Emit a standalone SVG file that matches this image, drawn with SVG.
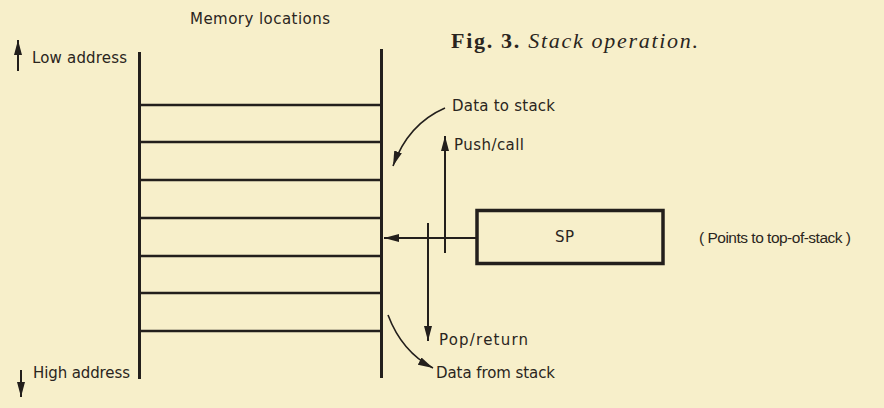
<svg xmlns="http://www.w3.org/2000/svg" width="884" height="408" viewBox="0 0 884 408">
<defs>
<style>
.t{font-family:"DejaVu Sans","Liberation Sans",sans-serif;font-size:15px;fill:#2a2520}
.rail{stroke:#231f1c;stroke-width:3;fill:none}
.cell{stroke:#231f1c;stroke-width:2.5;fill:none}
.ln{stroke:#231f1c;stroke-width:2;fill:none}
</style>
<marker id="ahl" viewBox="0 0 16 10" refX="15" refY="5" markerWidth="16" markerHeight="10" markerUnits="userSpaceOnUse" orient="auto">
<path d="M0,1 L15,5 L0,9 Z" fill="#231f1c"/>
</marker>
</defs>
<rect width="884" height="408" fill="#f7efca"/>
<text x="451" y="48" textLength="247" style="font-family:'Liberation Serif',serif;font-size:22px;fill:#2a2520"><tspan font-weight="bold">Fig. 3.</tspan><tspan font-style="italic"> Stack operation.</tspan></text>
<g id="stack">
<text class="t" x="190" y="24" textLength="140">Memory locations</text>
<line class="rail" x1="139.5" y1="52" x2="139.5" y2="379"/>
<line class="rail" x1="381.5" y1="49" x2="381.5" y2="378"/>
<line class="cell" x1="140" y1="105" x2="381" y2="105"/>
<line class="cell" x1="140" y1="142" x2="381" y2="142"/>
<line class="cell" x1="140" y1="180" x2="381" y2="180"/>
<line class="cell" x1="140" y1="218" x2="381" y2="218"/>
<line class="cell" x1="140" y1="256" x2="381" y2="256"/>
<line class="cell" x1="140" y1="293" x2="381" y2="293"/>
<line class="cell" x1="140" y1="331" x2="381" y2="331"/>
</g>
<g id="low-address">
<line class="ln" x1="18" y1="71" x2="18" y2="40" marker-end="url(#ahl)"/>
<text class="t" x="32" y="63" textLength="95">Low address</text>
</g>
<g id="high-address">
<line class="ln" x1="21" y1="370" x2="21" y2="397" marker-end="url(#ahl)"/>
<text class="t" x="33" y="378" textLength="97">High address</text>
</g>
<g id="sp">
<rect x="477" y="210.5" width="186" height="53" fill="none" stroke="#231f1c" stroke-width="3.5"/>
<text class="t" x="555" y="242" textLength="19">SP</text>
<text class="t" x="699" y="243" style="font-family:'Liberation Sans',sans-serif;font-size:15.5px" textLength="152">( Points to top-of-stack )</text>
</g>
<g id="connectors">
<line class="ln" x1="477" y1="238" x2="384" y2="238" marker-end="url(#ahl)"/>
<line class="ln" x1="445" y1="253" x2="445" y2="136" marker-end="url(#ahl)"/>
<line class="ln" x1="428" y1="223" x2="428" y2="341" marker-end="url(#ahl)"/>
<path class="ln" d="M445,108 Q408,124 393,166" marker-end="url(#ahl)" style="stroke-width:1.6"/>
<path class="ln" d="M388,315 Q402,352 433,368" marker-end="url(#ahl)" style="stroke-width:1.6"/>
</g>
<text class="t" x="452" y="111" textLength="103">Data to stack</text>
<text class="t" x="454" y="150" textLength="70">Push/call</text>
<text class="t" x="439" y="345" textLength="89">Pop/return</text>
<text class="t" x="436" y="378" textLength="119">Data from stack</text>
</svg>
